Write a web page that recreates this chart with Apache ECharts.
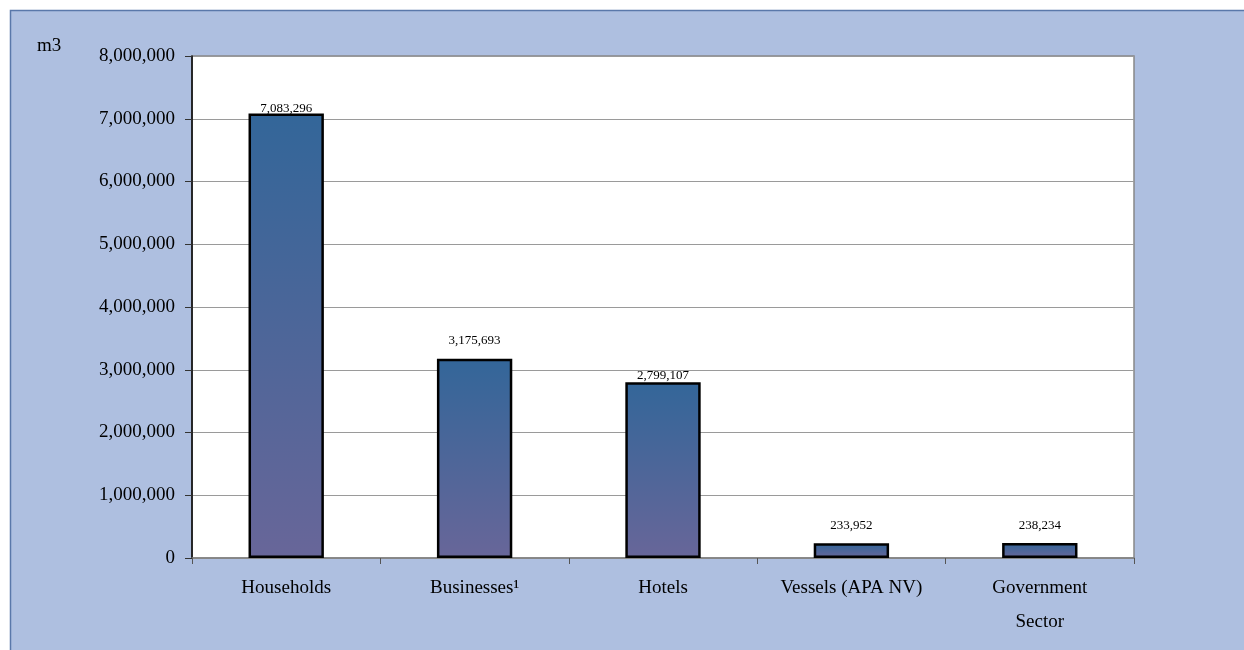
<!DOCTYPE html>
<html>
<head>
<meta charset="utf-8">
<script src="https://cdn.jsdelivr.net/npm/echarts@6/dist/echarts.min.js"></script>
<style>
html,body{margin:0;padding:0;background:#fff;}
#c{width:1244px;height:650px;}
</style>
</head>
<body>
<div id="c"></div>
<script>
const categories = ['Households', 'Businesses\u00b9', 'Hotels', 'Vessels (APA NV)', 'Government\nSector'];
const values = [7083296, 3175693, 2799107, 233952, 238234];
const yTicks = { min: 0, max: 8000000, interval: 1000000 };
const unitLabel = 'm3';

// label offsets (style only, per bar)
const labelGap = [-2, 12, 0, 11, 11];

const fmt = v => v.toLocaleString('en-US');
const font = '"Liberation Serif", "Times New Roman", serif';

const chart = echarts.init(document.getElementById('c'));
chart.setOption({
  animation: false,
  backgroundColor: '#fff',
  graphic: [
    { type: 'rect', shape: { x: 10.5, y: 10.5, width: 1250, height: 660 },
      style: { fill: '#aebfe0', stroke: '#5a78aa', lineWidth: 1.5 }, z: -10 },
    { type: 'text', left: 37, top: 37,
      style: { text: unitLabel, font: '19px ' + font, fill: '#000' } }
  ],
  grid: { left: 192, top: 56, right: 110, bottom: 92, show: true,
          backgroundColor: '#fff', borderColor: '#888', borderWidth: 1.5 },
  xAxis: {
    type: 'category', data: categories,
    axisLine: { lineStyle: { color: '#808080', width: 1.5 } },
    axisTick: { show: true, length: 6, lineStyle: { color: '#555' } },
    axisLabel: { color: '#000', fontFamily: font, fontSize: 19, lineHeight: 34, margin: 13, interval: 0 }
  },
  yAxis: {
    type: 'value', min: yTicks.min, max: yTicks.max, interval: yTicks.interval,
    axisLine: { show: true, lineStyle: { color: '#000', width: 1.5 } },
    axisTick: { show: true, length: 7, lineStyle: { color: '#333' } },
    axisLabel: { color: '#000', fontFamily: font, fontSize: 19, margin: 17, formatter: v => fmt(v) },
    splitLine: { lineStyle: { color: '#9a9a9a', width: 1 } }
  },
  series: [{
    type: 'bar',
    barWidth: '40%',
    data: values.map((v, i) => ({ value: v, label: { distance: labelGap[i] } })),
    itemStyle: {
      color: new echarts.graphic.LinearGradient(0, 0, 0, 1, [
        { offset: 0, color: '#336699' }, { offset: 1, color: '#686699' }
      ]),
      borderColor: '#000', borderWidth: 2.5
    },
    label: { show: true, position: 'top', color: '#000', fontFamily: font, fontSize: 13,
             formatter: p => fmt(p.value) }
  }]
});
</script>
</body>
</html>
